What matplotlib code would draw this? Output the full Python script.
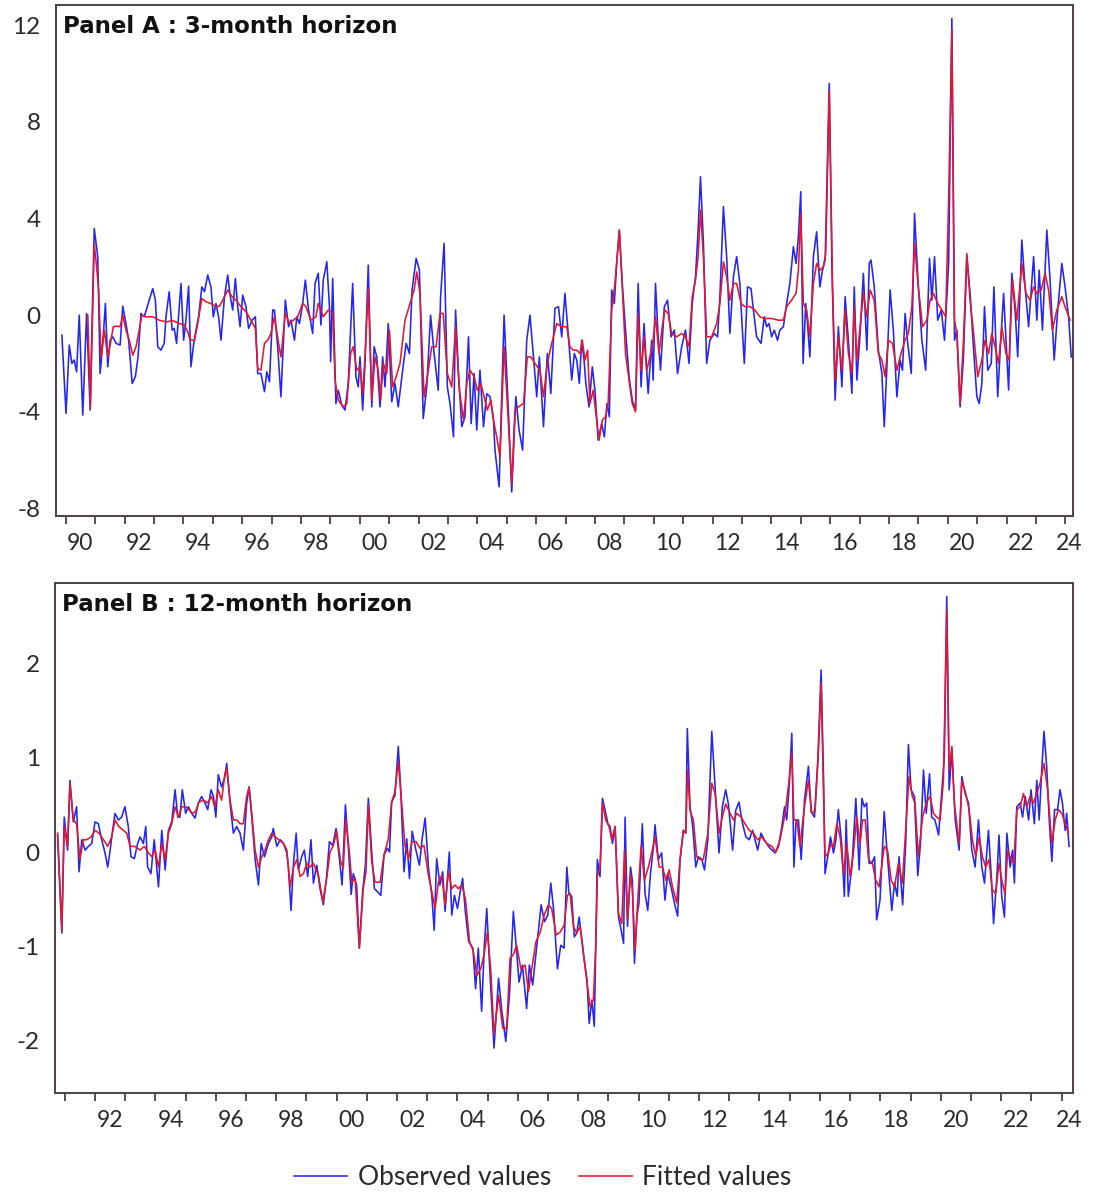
import matplotlib
matplotlib.use("Agg")
import matplotlib.pyplot as plt
import numpy as np

plt.rcParams["font.family"] = ["Lato", "DejaVu Sans"]

# ---- Panel A : 3-month horizon (decimal year, value) ----
a_obs_t = [1989.87, 1990.01, 1990.12, 1990.21, 1990.29, 1990.37, 1990.46, 1990.58, 1990.71, 1990.83,
           1990.97, 1991.09, 1991.17, 1991.26, 1991.35, 1991.43, 1991.51, 1991.60, 1991.71, 1991.85,
           1991.94, 1992.05, 1992.14, 1992.26, 1992.37, 1992.46, 1992.56, 1992.67, 1992.84, 1992.96,
           1993.05, 1993.13, 1993.24, 1993.35, 1993.41, 1993.52, 1993.62, 1993.69, 1993.77, 1993.92,
           1994.01, 1994.09, 1994.18, 1994.26, 1994.34, 1994.43, 1994.52, 1994.63, 1994.72, 1994.83,
           1994.94, 1995.02, 1995.11, 1995.20, 1995.28, 1995.40, 1995.51, 1995.60, 1995.68, 1995.77,
           1995.85, 1995.93, 1996.02, 1996.13, 1996.22, 1996.34, 1996.45, 1996.53, 1996.64, 1996.76,
           1996.84, 1996.93, 1997.04, 1997.10, 1997.21, 1997.32, 1997.47, 1997.58, 1997.66, 1997.78,
           1997.86, 1997.95, 1998.06, 1998.15, 1998.26, 1998.40, 1998.48, 1998.59, 1998.68, 1998.76,
           1998.88, 1998.97, 1999.01, 1999.08, 1999.19, 1999.27, 1999.39, 1999.50, 1999.61, 1999.76,
           1999.87, 1999.95, 2000.01, 2000.10, 2000.18, 2000.29, 2000.41, 2000.49, 2000.58, 2000.69,
           2000.78, 2000.86, 2000.97, 2001.09, 2001.20, 2001.31, 2001.46, 2001.58, 2001.69, 2001.78,
           2001.92, 2002.03, 2002.16, 2002.28, 2002.41, 2002.53, 2002.67, 2002.75, 2002.87, 2002.98,
           2003.07, 2003.19, 2003.26, 2003.36, 2003.47, 2003.58, 2003.70, 2003.79, 2003.89, 2003.98,
           2004.09, 2004.21, 2004.32, 2004.43, 2004.55, 2004.60, 2004.74, 2004.91, 2005.06, 2005.17,
           2005.31, 2005.42, 2005.54, 2005.68, 2005.79, 2005.91, 2006.02, 2006.11, 2006.25, 2006.38,
           2006.50, 2006.64, 2006.76, 2006.87, 2006.98, 2007.09, 2007.21, 2007.30, 2007.38, 2007.47,
           2007.55, 2007.63, 2007.69, 2007.80, 2007.91, 2008.00, 2008.11, 2008.23, 2008.32, 2008.41,
           2008.49, 2008.57, 2008.66, 2008.74, 2008.83, 2008.93, 2009.04, 2009.16, 2009.27, 2009.38,
           2009.47, 2009.57, 2009.67, 2009.72, 2009.81, 2009.93, 2009.98, 2010.06, 2010.15, 2010.23,
           2010.36, 2010.47, 2010.59, 2010.70, 2010.81, 2010.95, 2011.08, 2011.20, 2011.31, 2011.42,
           2011.51, 2011.59, 2011.69, 2011.80, 2011.91, 2012.06, 2012.17, 2012.25, 2012.37, 2012.48,
           2012.59, 2012.71, 2012.82, 2012.93, 2012.99, 2013.08, 2013.19, 2013.31, 2013.39, 2013.50,
           2013.65, 2013.76, 2013.84, 2013.92, 2014.01, 2014.10, 2014.21, 2014.29, 2014.41, 2014.52,
           2014.63, 2014.75, 2014.84, 2014.92, 2015.00, 2015.08, 2015.17, 2015.23, 2015.31, 2015.43,
           2015.54, 2015.65, 2015.74, 2015.83, 2015.97, 2016.06, 2016.17, 2016.28, 2016.40, 2016.51,
           2016.62, 2016.74, 2016.82, 2016.91, 2017.02, 2017.13, 2017.25, 2017.33, 2017.39, 2017.50,
           2017.64, 2017.76, 2017.84, 2017.93, 2018.04, 2018.15, 2018.27, 2018.38, 2018.46, 2018.55,
           2018.64, 2018.76, 2018.87, 2019.00, 2019.12, 2019.25, 2019.38, 2019.46, 2019.55, 2019.66,
           2019.78, 2019.89, 2020.03, 2020.14, 2020.23, 2020.31, 2020.42, 2020.53, 2020.65, 2020.76,
           2020.88, 2020.99, 2021.07, 2021.16, 2021.25, 2021.36, 2021.48, 2021.57, 2021.70, 2021.79,
           2021.90, 2022.07, 2022.18, 2022.29, 2022.38, 2022.52, 2022.63, 2022.75, 2022.92, 2023.03,
           2023.11, 2023.22, 2023.37, 2023.48, 2023.62, 2023.74, 2023.88, 2023.99, 2024.11, 2024.20]
a_obs_v = [-0.83, -4.07, -1.24, -2.00, -1.86, -2.35, 0.00, -4.14, 0.07, -3.93,
           3.59, 2.42, -2.42, -1.17, 0.48, -2.14, -1.04, -0.90, -1.17, -1.24,
           0.37, -0.35, -1.04, -2.83, -2.55, -1.73, 0.07, -0.07, 0.62, 1.10,
           0.62, -1.31, -1.45, -1.17, -0.07, 0.97, -0.62, -0.55, -1.17, 1.31,
           -1.04, -0.21, 1.20, -2.14, -1.31, -0.62, -0.07, 1.17, 0.97, 1.66,
           1.17, -0.07, 0.48, -0.07, -1.04, 0.76, 1.66, 0.76, 0.21, 1.52,
           0.35, -0.48, 0.83, 0.35, -0.55, -0.21, -0.07, -2.42, -2.42, -3.17,
           -2.35, -2.76, 0.21, 0.21, -1.31, -3.38, 0.62, -0.48, -0.21, -1.04,
           -0.07, -0.35, 0.48, 1.45, 0.21, -0.76, 1.31, 1.73, -0.41, 1.45,
           2.21, 0.35, -1.93, 1.52, -3.66, -3.11, -3.73, -3.93, -2.83, 1.31,
           -2.55, -2.97, -1.73, -3.93, -2.00, 2.07, -3.80, -1.31, -1.73, -3.80,
           -1.73, -2.97, -0.35, -3.59, -2.83, -3.80, -2.28, -1.17, -1.59, 1.04,
           2.35, 1.86, -4.28, -2.97, 0.00, -1.59, -3.11, 0.76, 2.97, -2.97,
           -3.66, -5.04, 0.21, -2.42, -4.62, -4.21, -0.90, -4.49, -2.42, -4.76,
           -2.28, -4.62, -3.25, -3.38, -4.35, -5.59, -7.11, 0.00, -4.07, -7.32,
           -3.38, -4.76, -5.59, -1.04, 0.00, -1.73, -3.38, -1.73, -4.62, -1.59,
           -3.25, 0.28, 0.35, -0.90, 0.90, -0.76, -2.69, -1.59, -1.86, -2.83,
           -1.04, -1.86, -2.83, -3.80, -2.14, -3.11, -5.18, -4.49, -5.04, -3.66,
           -4.21, 1.04, 0.48, 2.14, 3.52, 1.31, -0.62, -2.55, -3.52, -3.93,
           1.31, -2.97, -0.35, -1.45, -3.25, -1.04, -2.69, 1.31, -0.90, -2.28,
           0.35, 0.62, -0.90, -0.62, -2.42, -1.31, -0.62, -2.00, 0.48, 1.59,
           3.52, 5.73, 2.97, -2.00, -1.04, -0.76, -0.90, 0.76, 4.49, 2.42,
           -0.76, 1.59, 2.42, 1.31, -0.07, -2.00, 1.17, 1.10, 0.21, -0.90,
           -1.17, -0.07, -0.48, -0.35, -0.90, -0.62, -1.04, -0.62, -0.48, 0.48,
           1.31, 2.83, 2.14, 3.25, 5.11, -2.00, 0.48, -0.35, -1.73, 2.42,
           3.45, 1.17, 1.86, 2.28, 9.59, 2.00, -3.52, -0.48, -2.97, 0.76,
           -1.04, -3.24, 1.17, -2.69, -0.76, 1.73, -1.45, 2.14, 2.28, 1.17,
           -1.45, -2.42, -4.62, -2.14, 1.04, -0.62, -3.38, -1.86, -2.28, 0.07,
           -1.17, -2.42, 4.21, 1.17, -1.04, -2.28, 2.35, 0.62, 2.42, -0.21,
           0.21, -1.04, 2.14, 12.28, -1.04, -0.62, -3.80, -1.86, 2.42, 0.90,
           -1.45, -3.38, -3.66, -2.83, 0.35, -2.28, -2.00, 1.17, -3.38, -1.31,
           0.90, -3.10, 1.73, 0.21, -1.73, 3.11, 1.17, -0.48, 2.42, -0.21,
           1.86, -0.62, 3.52, 1.45, -1.86, 0.21, 2.14, 1.17, -0.07, -1.73]

a_fit_t = [1990.75, 1990.84, 1990.97, 1991.05, 1991.12, 1991.20, 1991.31, 1991.43, 1991.52, 1991.62,
           1991.73, 1991.85, 1991.94, 1992.05, 1992.16, 1992.28, 1992.39, 1992.50, 1992.59, 1992.73,
           1992.96, 1993.18, 1993.41, 1993.64, 1993.87, 1994.04, 1994.15, 1994.24, 1994.38, 1994.49,
           1994.63, 1994.77, 1994.94, 1995.11, 1995.23, 1995.34, 1995.51, 1995.66, 1995.79, 1995.96,
           1996.13, 1996.30, 1996.45, 1996.53, 1996.64, 1996.76, 1996.87, 1996.98, 1997.10, 1997.24,
           1997.32, 1997.47, 1997.61, 1997.74, 1997.89, 1998.06, 1998.17, 1998.34, 1998.51, 1998.59,
           1998.76, 1998.93, 1999.08, 1999.16, 1999.27, 1999.44, 1999.56, 1999.69, 1999.78, 1999.90,
           2000.01, 2000.10, 2000.18, 2000.29, 2000.41, 2000.52, 2000.63, 2000.71, 2000.80, 2000.92,
           2001.01, 2001.12, 2001.24, 2001.37, 2001.54, 2001.71, 2001.85, 2001.94, 2002.05, 2002.19,
           2002.30, 2002.45, 2002.60, 2002.73, 2002.84, 2002.98, 2003.13, 2003.26, 2003.39, 2003.53,
           2003.64, 2003.75, 2003.89, 2004.00, 2004.12, 2004.23, 2004.34, 2004.46, 2004.57, 2004.66,
           2004.77, 2004.91, 2005.02, 2005.17, 2005.28, 2005.40, 2005.57, 2005.70, 2005.82, 2005.96,
           2006.13, 2006.25, 2006.38, 2006.53, 2006.70, 2006.87, 2007.04, 2007.15, 2007.26, 2007.38,
           2007.49, 2007.57, 2007.66, 2007.75, 2007.83, 2007.94, 2008.06, 2008.14, 2008.25, 2008.36,
           2008.45, 2008.57, 2008.68, 2008.83, 2008.93, 2009.04, 2009.16, 2009.27, 2009.38, 2009.47,
           2009.57, 2009.67, 2009.76, 2009.87, 2009.98, 2010.06, 2010.18, 2010.29, 2010.38, 2010.49,
           2010.61, 2010.78, 2010.95, 2011.08, 2011.20, 2011.31, 2011.42, 2011.51, 2011.59, 2011.69,
           2011.80, 2011.97, 2012.14, 2012.25, 2012.37, 2012.48, 2012.59, 2012.71, 2012.82, 2012.97,
           2013.10, 2013.27, 2013.44, 2013.61, 2013.78, 2014.01, 2014.24, 2014.41, 2014.52, 2014.69,
           2014.84, 2014.92, 2015.00, 2015.09, 2015.20, 2015.31, 2015.43, 2015.54, 2015.65, 2015.77,
           2015.85, 2015.97, 2016.08, 2016.17, 2016.28, 2016.40, 2016.51, 2016.62, 2016.74, 2016.82,
           2016.91, 2017.02, 2017.13, 2017.25, 2017.36, 2017.50, 2017.64, 2017.76, 2017.87, 2017.98,
           2018.12, 2018.27, 2018.41, 2018.55, 2018.66, 2018.78, 2018.87, 2019.00, 2019.14, 2019.29,
           2019.40, 2019.51, 2019.66, 2019.80, 2019.93, 2020.03, 2020.14, 2020.23, 2020.31, 2020.42,
           2020.53, 2020.65, 2020.76, 2020.88, 2021.02, 2021.16, 2021.27, 2021.39, 2021.50, 2021.61,
           2021.73, 2021.84, 2021.98, 2022.09, 2022.20, 2022.35, 2022.52, 2022.66, 2022.80, 2022.92,
           2023.03, 2023.18, 2023.31, 2023.43, 2023.56, 2023.71, 2023.88, 2023.99, 2024.16]
a_fit_v = [0.00, -3.80, 2.97, 2.00, 1.04, -1.73, -0.62, -1.73, -1.17, -0.48,
           -0.46, -0.48, 0.00, -0.62, -1.04, -1.66, -1.31, -0.62, 0.00, -0.07,
           -0.07, -0.21, -0.28, -0.23, -0.35, -0.41, -0.69, -1.04, -1.04, -0.35,
           0.69, 0.55, 0.48, 0.35, 0.37, 0.62, 1.04, 0.76, 0.62, 0.35,
           0.14, -0.21, -0.55, -2.21, -2.28, -1.17, -1.04, -0.76, -0.07, -1.17,
           -1.73, 0.07, -0.35, -0.21, -0.07, 0.48, 0.35, -0.21, -0.07, 0.48,
           -0.07, 0.21, 0.07, -2.69, -3.52, -3.80, -3.66, -1.59, -1.31, -2.28,
           -2.14, -3.25, -1.73, 1.10, -3.52, -1.73, -2.28, -3.52, -2.00, -2.42,
           -0.62, -2.97, -2.55, -2.00, -0.21, 0.48, 1.04, 1.79, 0.90, -3.38,
           -2.55, -1.31, -1.31, 0.07, 0.07, -2.42, -2.97, -0.48, -3.11, -4.35,
           -2.83, -2.28, -2.55, -3.11, -2.83, -3.38, -3.93, -3.52, -4.49, -5.04,
           -5.87, -1.31, -3.66, -6.97, -3.93, -3.80, -3.66, -1.73, -1.73, -2.00,
           -2.28, -3.38, -2.00, -1.17, -0.35, -0.48, -0.48, -1.31, -1.45, -1.45,
           -1.59, -1.04, -1.86, -1.45, -3.66, -3.11, -4.35, -5.18, -4.35, -4.21,
           -3.66, 0.21, 1.31, 3.52, 1.17, -1.59, -2.69, -3.66, -4.00, 0.07,
           -2.28, -0.90, -2.28, -1.73, -1.04, -0.07, -1.59, -0.48, 0.21, 0.07,
           -0.76, -0.90, -0.76, -0.90, -1.31, 0.76, 1.45, 2.42, 4.35, 2.42,
           -0.90, -0.90, -0.35, 0.48, 2.21, 1.59, 0.62, 1.31, 1.31, 0.48,
           0.35, 0.35, 0.21, -0.07, -0.14, -0.14, -0.21, -0.21, 0.35, 0.62,
           0.90, 1.86, 4.21, 0.48, 0.21, -0.90, 1.31, 2.14, 1.86, 2.00,
           2.55, 9.32, 1.31, -2.69, -0.90, -2.28, 0.21, -1.59, -2.42, 0.35,
           -1.86, -0.48, 0.90, -0.07, 1.04, 0.62, -1.59, -1.86, -2.55, -1.04,
           -1.17, -2.28, -1.59, -1.04, -0.76, 0.35, 2.97, 1.17, -0.48, -0.21,
           0.62, 0.90, 0.48, 0.21, -0.07, 4.76, 11.80, -0.21, -0.76, -3.66,
           -1.17, 2.55, 0.62, -0.76, -2.55, -1.86, -1.04, -1.59, -0.76, -1.31,
           -2.00, -0.48, -1.59, -1.86, 1.45, -0.21, 2.14, 0.90, 0.62, 1.17,
           0.90, 1.04, 1.73, 1.04, -0.62, 0.21, 0.76, 0.35, -0.21]

# ---- Panel B : 12-month horizon ----
b_obs_t = [1990.76, 1990.90, 1990.98, 1991.09, 1991.17, 1991.28, 1991.39, 1991.47, 1991.56, 1991.67,
           1991.78, 1991.89, 1992.00, 1992.11, 1992.22, 1992.33, 1992.42, 1992.50, 1992.57, 1992.66,
           1992.77, 1992.88, 1992.99, 1993.10, 1993.19, 1993.30, 1993.41, 1993.49, 1993.60, 1993.68,
           1993.74, 1993.85, 1993.96, 1994.10, 1994.21, 1994.32, 1994.43, 1994.54, 1994.65, 1994.74,
           1994.81, 1994.89, 1995.00, 1995.09, 1995.20, 1995.31, 1995.42, 1995.53, 1995.64, 1995.73,
           1995.84, 1995.92, 1996.00, 1996.08, 1996.19, 1996.30, 1996.36, 1996.47, 1996.58, 1996.69,
           1996.80, 1996.91, 1997.02, 1997.10, 1997.19, 1997.30, 1997.41, 1997.50, 1997.61, 1997.74,
           1997.85, 1997.90, 1998.02, 1998.13, 1998.24, 1998.35, 1998.40, 1998.49, 1998.57, 1998.66,
           1998.73, 1998.84, 1998.93, 1999.04, 1999.15, 1999.23, 1999.34, 1999.45, 1999.56, 1999.67,
           1999.76, 1999.87, 1999.98, 2000.09, 2000.18, 2000.29, 2000.39, 2000.48, 2000.55, 2000.66,
           2000.75, 2000.86, 2000.95, 2001.05, 2001.16, 2001.25, 2001.35, 2001.46, 2001.57, 2001.68,
           2001.75, 2001.82, 2001.93, 2002.04, 2002.12, 2002.23, 2002.32, 2002.41, 2002.50, 2002.61,
           2002.74, 2002.83, 2002.93, 2003.04, 2003.15, 2003.23, 2003.31, 2003.42, 2003.51, 2003.59,
           2003.73, 2003.81, 2003.90, 2004.00, 2004.09, 2004.17, 2004.26, 2004.37, 2004.51, 2004.60,
           2004.69, 2004.80, 2004.89, 2004.97, 2005.08, 2005.21, 2005.36, 2005.47, 2005.60, 2005.72,
           2005.85, 2005.96, 2006.04, 2006.15, 2006.29, 2006.38, 2006.49, 2006.62, 2006.77, 2006.88,
           2006.99, 2007.09, 2007.18, 2007.31, 2007.42, 2007.53, 2007.62, 2007.69, 2007.78, 2007.87,
           2007.95, 2008.03, 2008.12, 2008.20, 2008.29, 2008.36, 2008.45, 2008.53, 2008.63, 2008.72,
           2008.80, 2008.89, 2008.98, 2009.05, 2009.13, 2009.22, 2009.33, 2009.42, 2009.50, 2009.55,
           2009.63, 2009.73, 2009.79, 2009.86, 2009.94, 2010.01, 2010.12, 2010.21, 2010.30, 2010.39,
           2010.49, 2010.54, 2010.65, 2010.76, 2010.87, 2010.96, 2011.07, 2011.21, 2011.29, 2011.37,
           2011.48, 2011.56, 2011.61, 2011.70, 2011.79, 2011.89, 2011.98, 2012.09, 2012.18, 2012.29,
           2012.42, 2012.53, 2012.66, 2012.77, 2012.88, 2012.97, 2013.11, 2013.21, 2013.32, 2013.44,
           2013.55, 2013.66, 2013.77, 2013.85, 2013.94, 2014.05, 2014.16, 2014.30, 2014.41, 2014.52,
           2014.63, 2014.74, 2014.83, 2014.90, 2014.98, 2015.07, 2015.14, 2015.21, 2015.29, 2015.38,
           2015.49, 2015.62, 2015.71, 2015.82, 2015.93, 2016.04, 2016.12, 2016.17, 2016.26, 2016.35,
           2016.45, 2016.53, 2016.61, 2016.72, 2016.81, 2016.87, 2016.94, 2017.06, 2017.19, 2017.30,
           2017.39, 2017.47, 2017.55, 2017.63, 2017.72, 2017.81, 2017.88, 2017.99, 2018.13, 2018.21,
           2018.29, 2018.38, 2018.47, 2018.56, 2018.62, 2018.74, 2018.84, 2018.93, 2019.02, 2019.13,
           2019.24, 2019.33, 2019.43, 2019.52, 2019.63, 2019.70, 2019.81, 2019.93, 2020.04, 2020.12,
           2020.20, 2020.28, 2020.37, 2020.48, 2020.61, 2020.70, 2020.81, 2020.92, 2021.03, 2021.14,
           2021.25, 2021.36, 2021.45, 2021.58, 2021.67, 2021.75, 2021.86, 2021.93, 2022.02, 2022.11,
           2022.19, 2022.30, 2022.38, 2022.44, 2022.52, 2022.63, 2022.71, 2022.80, 2022.91, 2022.99,
           2023.10, 2023.18, 2023.26, 2023.35, 2023.42, 2023.51, 2023.60, 2023.68, 2023.77, 2023.87,
           2023.95, 2024.03, 2024.12, 2024.17, 2024.25]
b_obs_v = [0.18, -0.86, 0.37, 0.02, 0.76, 0.32, 0.48, -0.21, 0.13, 0.02,
           0.06, 0.09, 0.32, 0.30, 0.13, -0.01, -0.16, 0.02, 0.20, 0.41,
           0.34, 0.37, 0.48, 0.27, -0.05, -0.07, 0.09, 0.16, 0.09, 0.27,
           -0.16, -0.23, 0.13, -0.37, 0.23, -0.19, 0.23, 0.32, 0.66, 0.37,
           0.37, 0.66, 0.41, 0.48, 0.41, 0.36, 0.52, 0.59, 0.52, 0.45,
           0.66, 0.59, 0.37, 0.82, 0.69, 0.80, 0.94, 0.52, 0.20, 0.27,
           0.20, 0.02, 0.52, 0.69, 0.37, -0.08, -0.35, 0.09, -0.05, 0.09,
           0.16, 0.25, 0.06, 0.13, 0.09, -0.01, -0.16, -0.62, -0.12, 0.20,
           -0.19, -0.05, 0.02, -0.26, 0.13, -0.33, -0.14, -0.39, -0.56, -0.25,
           0.11, 0.07, 0.25, -0.07, -0.35, 0.50, 0.04, -0.45, -0.23, -0.35,
           -1.02, -0.42, -0.14, 0.57, 0.00, -0.39, -0.42, -0.46, -0.03, 0.04,
           0.00, 0.53, 0.60, 1.12, 0.67, -0.21, 0.14, -0.28, 0.22, 0.04,
           -0.14, 0.14, 0.36, -0.17, -0.46, -0.83, -0.07, -0.35, -0.21, -0.63,
           0.00, -0.67, -0.46, -0.60, -0.42, -0.28, -0.63, -0.95, -1.02, -1.45,
           -1.02, -1.69, -0.99, -0.60, -1.31, -2.08, -1.34, -1.69, -2.01, -1.52,
           -0.63, -1.06, -1.38, -1.20, -1.66, -1.20, -1.41, -1.02, -0.56, -0.74,
           -0.67, -0.33, -0.60, -1.24, -0.99, -1.02, -0.16, -0.44, -0.47, -0.90,
           -0.86, -0.69, -0.93, -1.15, -1.36, -1.82, -1.57, -1.85, -0.08, -0.26,
           0.57, 0.44, 0.30, 0.27, 0.09, 0.27, -0.69, -0.83, -0.97, 0.37,
           -0.79, -0.16, -0.30, -1.18, -0.69, -0.54, 0.30, -0.44, -0.62, -0.23,
           0.06, 0.29, -0.08, -0.01, -0.51, -0.23, -0.37, -0.58, -0.68, -0.08,
           0.23, 0.20, 1.31, 0.48, 0.27, -0.16, -0.05, -0.08, -0.19, 0.13,
           1.28, 0.69, -0.01, 0.48, 0.66, 0.51, 0.02, 0.44, 0.53, 0.30,
           0.16, 0.13, 0.23, 0.13, 0.02, 0.20, 0.13, 0.06, 0.02, -0.01,
           0.06, 0.27, 0.48, 0.34, 0.69, 1.26, -0.16, 0.34, 0.34, -0.08,
           0.55, 0.91, 0.43, 0.37, 0.97, 1.93, 0.80, -0.23, -0.05, 0.16,
           -0.01, 0.13, 0.45, 0.09, -0.47, 0.34, -0.47, -0.16, 0.57, -0.19,
           0.57, 0.48, 0.52, -0.12, -0.12, -0.05, -0.72, -0.51, 0.43, 0.06,
           -0.26, -0.62, -0.33, -0.47, -0.05, -0.56, 0.09, 1.14, 0.66, 0.59,
           -0.25, 0.09, 0.87, 0.41, 0.83, 0.37, 0.34, 0.18, 0.66, 1.01,
           2.71, 0.66, 1.08, 0.34, 0.02, 0.80, 0.62, 0.52, 0.02, -0.16,
           0.34, -0.16, -0.33, 0.23, -0.23, -0.76, -0.26, 0.18, -0.47, -0.69,
           0.20, -0.16, 0.02, -0.33, 0.48, 0.52, 0.37, 0.59, 0.34, 0.66,
           0.30, 0.76, 0.34, 0.90, 1.28, 0.90, 0.30, -0.10, 0.45, 0.45,
           0.66, 0.52, 0.23, 0.41, 0.06]

b_fit_t = [1990.76, 1990.90, 1990.98, 1991.09, 1991.17, 1991.28, 1991.39, 1991.50, 1991.61, 1991.72,
           1991.87, 1992.00, 1992.13, 1992.28, 1992.42, 1992.55, 1992.66, 1992.79, 1992.94, 1993.05,
           1993.16, 1993.32, 1993.49, 1993.63, 1993.77, 1993.88, 1993.99, 1994.10, 1994.21, 1994.32,
           1994.43, 1994.54, 1994.65, 1994.76, 1994.87, 1995.00, 1995.11, 1995.22, 1995.33, 1995.44,
           1995.59, 1995.73, 1995.86, 1995.97, 1996.08, 1996.19, 1996.30, 1996.36, 1996.47, 1996.58,
           1996.69, 1996.80, 1996.91, 1997.02, 1997.10, 1997.19, 1997.30, 1997.41, 1997.52, 1997.63,
           1997.74, 1997.85, 1997.96, 1998.09, 1998.24, 1998.35, 1998.46, 1998.57, 1998.68, 1998.79,
           1998.90, 1999.01, 1999.12, 1999.23, 1999.40, 1999.54, 1999.67, 1999.78, 1999.89, 2000.00,
           2000.13, 2000.22, 2000.30, 2000.42, 2000.50, 2000.61, 2000.75, 2000.88, 2000.97, 2001.05,
           2001.16, 2001.27, 2001.44, 2001.57, 2001.71, 2001.82, 2001.93, 2002.04, 2002.15, 2002.26,
           2002.38, 2002.49, 2002.63, 2002.76, 2002.89, 2003.04, 2003.15, 2003.26, 2003.37, 2003.48,
           2003.59, 2003.70, 2003.81, 2003.92, 2004.03, 2004.14, 2004.26, 2004.40, 2004.53, 2004.64,
           2004.77, 2004.88, 2004.99, 2005.10, 2005.21, 2005.36, 2005.50, 2005.63, 2005.74, 2005.85,
           2005.96, 2006.10, 2006.24, 2006.35, 2006.46, 2006.60, 2006.74, 2006.87, 2007.01, 2007.12,
           2007.27, 2007.40, 2007.53, 2007.64, 2007.73, 2007.84, 2007.95, 2008.06, 2008.17, 2008.28,
           2008.39, 2008.50, 2008.58, 2008.63, 2008.72, 2008.80, 2008.91, 2009.02, 2009.11, 2009.22,
           2009.33, 2009.44, 2009.53, 2009.63, 2009.73, 2009.79, 2009.88, 2009.97, 2010.08, 2010.19,
           2010.32, 2010.43, 2010.54, 2010.68, 2010.79, 2010.90, 2011.01, 2011.12, 2011.26, 2011.37,
           2011.48, 2011.56, 2011.62, 2011.70, 2011.81, 2011.92, 2012.03, 2012.14, 2012.29, 2012.42,
           2012.53, 2012.66, 2012.77, 2012.88, 2013.03, 2013.14, 2013.25, 2013.39, 2013.52, 2013.66,
           2013.80, 2013.94, 2014.07, 2014.24, 2014.41, 2014.54, 2014.68, 2014.85, 2014.98, 2015.07,
           2015.14, 2015.23, 2015.34, 2015.49, 2015.62, 2015.73, 2015.84, 2015.95, 2016.04, 2016.12,
           2016.17, 2016.28, 2016.37, 2016.45, 2016.56, 2016.67, 2016.78, 2016.89, 2017.00, 2017.11,
           2017.22, 2017.33, 2017.41, 2017.50, 2017.61, 2017.74, 2017.85, 2017.96, 2018.13, 2018.24,
           2018.36, 2018.47, 2018.60, 2018.73, 2018.84, 2018.95, 2019.06, 2019.15, 2019.26, 2019.40,
           2019.52, 2019.65, 2019.76, 2019.87, 2019.98, 2020.09, 2020.20, 2020.28, 2020.37, 2020.45,
           2020.61, 2020.70, 2020.83, 2020.94, 2021.05, 2021.16, 2021.27, 2021.38, 2021.49, 2021.60,
           2021.71, 2021.82, 2021.93, 2022.04, 2022.13, 2022.22, 2022.33, 2022.42, 2022.52, 2022.63,
           2022.74, 2022.85, 2022.96, 2023.07, 2023.18, 2023.29, 2023.42, 2023.54, 2023.68, 2023.79,
           2023.90, 2024.01, 2024.12, 2024.23]
b_fit_v = [0.20, -0.83, 0.27, 0.06, 0.73, 0.34, 0.30, -0.08, 0.13, 0.13,
           0.16, 0.23, 0.20, 0.13, 0.06, 0.16, 0.34, 0.27, 0.23, 0.20,
           0.06, 0.06, 0.02, 0.06, -0.01, -0.05, 0.02, -0.16, 0.09, -0.08,
           0.20, 0.30, 0.48, 0.37, 0.48, 0.48, 0.45, 0.41, 0.43, 0.53,
           0.55, 0.52, 0.59, 0.48, 0.66, 0.55, 0.83, 0.89, 0.55, 0.34,
           0.34, 0.30, 0.30, 0.59, 0.69, 0.41, 0.02, -0.16, -0.05, 0.02,
           0.13, 0.20, 0.16, 0.13, 0.09, 0.02, -0.37, -0.16, -0.08, -0.26,
           -0.23, -0.12, -0.16, -0.12, -0.25, -0.53, -0.28, 0.00, 0.07, 0.22,
           -0.10, -0.17, 0.35, 0.00, -0.32, -0.28, -1.02, -0.39, -0.21, 0.50,
           -0.10, -0.32, -0.32, -0.03, 0.14, 0.53, 0.64, 0.96, 0.53, 0.07,
           -0.07, 0.11, 0.11, 0.04, 0.07, -0.25, -0.42, -0.60, -0.32, -0.25,
           -0.56, -0.21, -0.39, -0.35, -0.39, -0.35, -0.49, -0.95, -1.06, -1.31,
           -1.24, -1.09, -0.85, -1.24, -1.94, -1.52, -1.87, -1.87, -1.13, -1.09,
           -0.99, -1.24, -1.20, -1.48, -1.24, -0.95, -0.85, -0.67, -0.56, -0.60,
           -0.88, -0.85, -0.78, -0.46, -0.44, -0.79, -0.86, -0.79, -1.08, -1.36,
           -1.64, -1.57, -1.00, -0.26, -0.16, 0.52, 0.34, 0.27, 0.13, 0.27,
           -0.65, -0.76, 0.02, -0.72, -0.23, -0.40, -1.04, -0.51, 0.06, -0.30,
           -0.16, -0.01, 0.16, -0.16, -0.16, -0.30, -0.19, -0.37, -0.54, -0.08,
           0.23, 0.20, 0.87, 0.44, 0.34, -0.05, -0.08, -0.08, 0.20, 0.73,
           0.62, 0.20, 0.37, 0.51, 0.41, 0.34, 0.41, 0.37, 0.30, 0.23,
           0.20, 0.13, 0.16, 0.09, 0.06, 0.00, 0.13, 0.41, 0.76, 1.05,
           0.34, 0.34, 0.06, 0.48, 0.76, 0.41, 0.44, 1.05, 1.79, 0.62,
           -0.05, -0.01, 0.09, 0.06, 0.30, 0.16, -0.23, 0.09, -0.26, -0.01,
           0.37, 0.09, 0.34, 0.34, -0.08, -0.12, -0.30, -0.37, 0.06, 0.02,
           -0.30, -0.37, -0.12, -0.33, 0.23, 0.80, 0.59, 0.52, -0.05, 0.37,
           0.52, 0.59, 0.41, 0.37, 0.34, 0.76, 2.57, 0.87, 1.12, 0.52,
           0.09, 0.76, 0.62, 0.45, 0.13, -0.05, 0.16, -0.05, -0.16, -0.08,
           -0.40, -0.44, -0.12, -0.33, -0.44, 0.02, -0.08, -0.12, 0.45, 0.48,
           0.62, 0.48, 0.59, 0.52, 0.62, 0.73, 0.94, 0.66, 0.09, 0.34,
           0.45, 0.41, 0.30, 0.20]

panel_titles = ["Panel A : 3-month horizon", "Panel B : 12-month horizon"]
series_labels = ["Observed values", "Fitted values"]
a_yticks = [-8, -4, 0, 4, 8, 12]
b_yticks = [-2, -1, 0, 1, 2]

BLUE = "#2424f4"
RED = "#e3172d"
FRAME = "#4d3f4d"

fig = plt.figure(figsize=(10.94, 11.94), dpi=100)
ax_a = fig.add_axes([0.0512, 0.5678, 0.9296, 0.4280])
ax_b = fig.add_axes([0.0503, 0.0846, 0.9305, 0.4271])

panels = [
    (ax_a, a_obs_t, a_obs_v, a_fit_t, a_fit_v, (1989.67, 2024.26), (-8.32, 12.84), a_yticks),
    (ax_b, b_obs_t, b_obs_v, b_fit_t, b_fit_v, (1990.675, 2024.38), (-2.557, 2.854), b_yticks),
]

handles = []
for i, (ax, ot, ov, ft, fv, xl, yl, yt) in enumerate(panels):
    l1, = ax.plot(ot, ov, color=BLUE, lw=1.15, zorder=2)
    l2, = ax.plot(ft, fv, color=RED, lw=1.15, zorder=3)
    handles = [l1, l2]

    # year ticks at Jan, labels every other year at mid-year (only inside the range)
    years = np.arange(1990, 2025)
    years = years[(years >= xl[0]) & (years <= xl[1])]
    ax.set_xticks(years)
    ax.set_xticklabels([])
    labs = np.arange(1990, 2025, 2)
    labs = labs[labs + 0.5 > xl[0]]
    pos = np.minimum(labs + 0.5, xl[1] - 0.12)
    ax.set_xticks(pos, minor=True)
    ax.set_xticklabels(["%02d" % (y % 100) for y in labs], minor=True)
    ax.tick_params(axis="x", which="major", direction="out", length=6, width=1.3, color=FRAME)
    ax.tick_params(axis="x", which="minor", length=0, pad=12, labelsize=16.5, labelcolor="#2a2a2a")

    ax.set_yticks(yt)
    ax.set_yticklabels([str(v) for v in yt])
    ax.tick_params(axis="y", length=0, pad=11, labelsize=17.5, labelcolor="#2a2a2a")

    ax.set_xlim(*xl)
    ax.set_ylim(*yl)

    for s in ax.spines.values():
        s.set_color(FRAME)
        s.set_linewidth(1.4)

    ax.text(0.007, 0.945, panel_titles[i], transform=ax.transAxes, ha="left", va="baseline",
            fontsize=16.5, fontweight="bold", family="DejaVu Sans", color="#111111")

fig.legend(handles, series_labels, loc="center", bbox_to_anchor=(0.4963, 0.014),
           ncol=2, frameon=False, fontsize=19, handlelength=2.0, handletextpad=0.4,
           columnspacing=1.06, labelcolor="#2a2a2a")

fig.savefig("out.png", dpi=100)
